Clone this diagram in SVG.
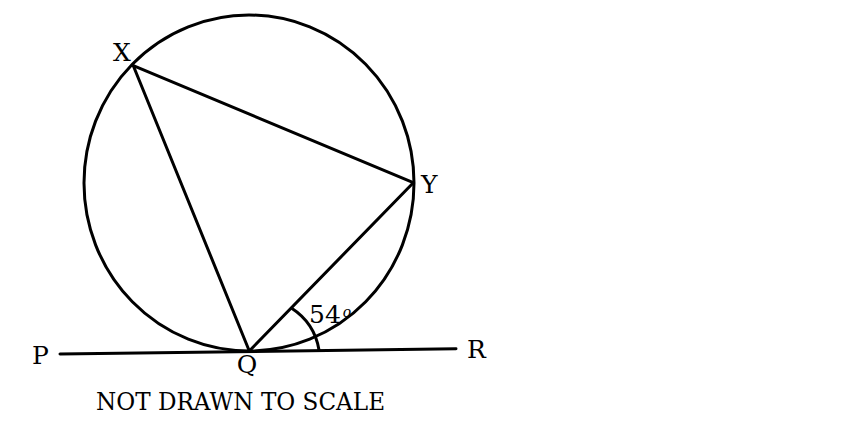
<svg xmlns="http://www.w3.org/2000/svg" width="864" height="432" viewBox="0 0 864 432">
<style>
.ln{stroke:#000;stroke-width:3;fill:none;stroke-linecap:round}
.lb{font-family:"DejaVu Serif","Liberation Serif",serif;font-size:25px;fill:#000}
</style>
<rect width="864" height="432" fill="#fff"/>
<g id="circle"><ellipse class="ln" cx="249" cy="183" rx="165" ry="168"/></g>
<g id="connectors">
<line class="ln" x1="60" y1="354" x2="456" y2="348.7"/>
<line class="ln" x1="133.3" y1="65.7" x2="413.3" y2="182.7"/>
<line class="ln" x1="133.3" y1="65.7" x2="249.3" y2="351"/>
<line class="ln" x1="249.3" y1="351" x2="413.3" y2="182.7"/>
<path class="ln" d="M291.7 308.3 A62 62 0 0 1 319 350"/>
</g>
<g id="X"><text class="lb" x="113" y="61">X</text></g>
<g id="Y"><text class="lb" x="421" y="193">Y</text></g>
<g id="P"><text class="lb" x="32" y="364">P</text></g>
<g id="Q"><text class="lb" x="247" y="373" text-anchor="middle">Q</text></g>
<g id="R"><text class="lb" x="467" y="358">R</text></g>
<g id="angle"><text class="lb" x="309" y="323" font-size="16px">54<tspan dx="2" dy="-6" font-size="14px" font-style="italic">o</tspan></text></g>
<g id="note"><text class="lb" x="96" y="410" font-size="23px" textLength="289" lengthAdjust="spacingAndGlyphs">NOT DRAWN TO SCALE</text></g>
</svg>
